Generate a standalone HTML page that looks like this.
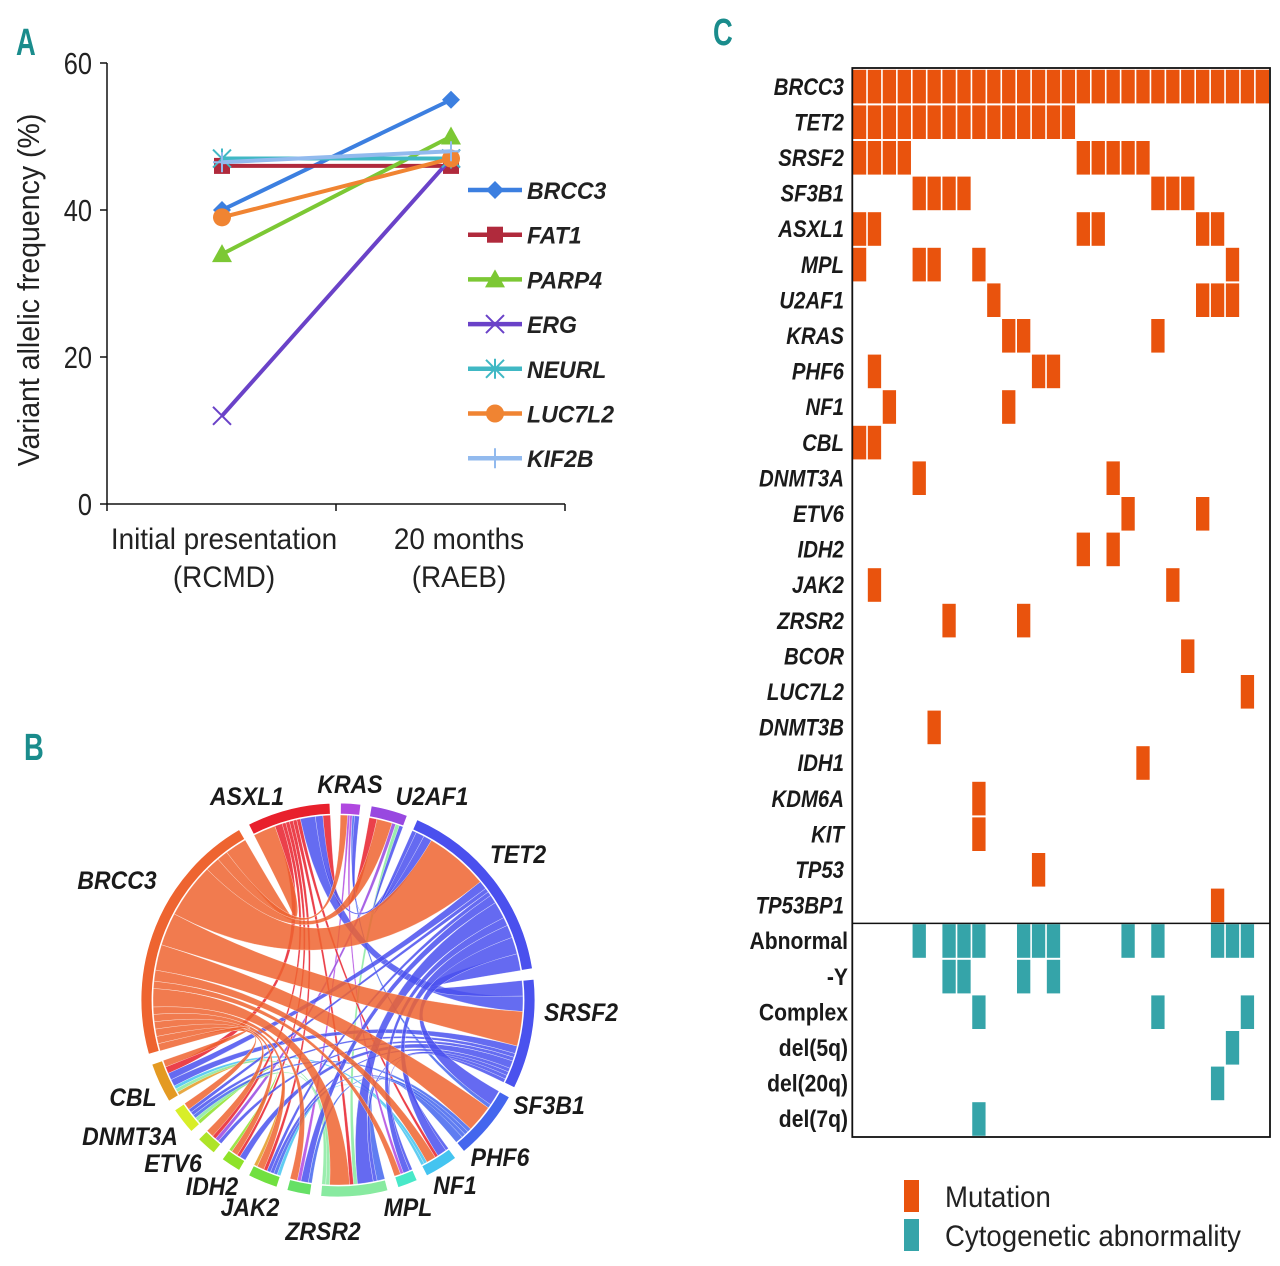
<!DOCTYPE html>
<html><head><meta charset="utf-8"><style>
html,body{margin:0;padding:0;background:#fff;}
svg{display:block;}
text{font-family:"Liberation Sans",sans-serif;}
</style></head><body>
<svg id="fig" width="1280" height="1266" viewBox="0 0 1280 1266" xmlns="http://www.w3.org/2000/svg">
<g id="panelA"></g>
<g id="panelB"></g>
<g id="panelC"></g>
<text x="0" y="0" font-size="38" font-weight="bold" fill="#1a8c8c" transform="translate(16,55) scale(0.72,1)">A</text>
<text x="0" y="0" font-size="38" font-weight="bold" fill="#1a8c8c" transform="translate(24,760) scale(0.72,1)">B</text>
<text x="0" y="0" font-size="38" font-weight="bold" fill="#1a8c8c" transform="translate(713,45) scale(0.72,1)">C</text>
</svg>
<script>
const NS="http://www.w3.org/2000/svg";
function mk(tag,attrs,parent){const e=document.createElementNS(NS,tag);for(const k in attrs)e.setAttribute(k,attrs[k]);parent.appendChild(e);return e;}

/* ---------- Panel A data ---------- */
const seriesNames=["BRCC3","FAT1","PARP4","ERG","NEURL","LUC7L2","KIF2B"];
const initialVAF=[40,46,34,12,47,39,46.5];
const finalVAF=[55,46,50,47,47,47,48];
const timeLabels=[["Initial presentation","(RCMD)"],["20 months","(RAEB)"]];
const yTicks=[0,20,40,60];
const seriesColors=["#3c7fe0","#b02a3c","#7cc834","#6a42c8","#40b8c4","#f08432","#92baee"];
const seriesMarkers=["diamond","square","triangle","x","star","circle","plus"];

/* ---------- Panel C data ---------- */
const mutGenes=["BRCC3","TET2","SRSF2","SF3B1","ASXL1","MPL","U2AF1","KRAS","PHF6","NF1","CBL","DNMT3A","ETV6","IDH2","JAK2","ZRSR2","BCOR","LUC7L2","DNMT3B","IDH1","KDM6A","KIT","TP53","TP53BP1"];
const mutPatients=[
[0,1,2,3,4,5,6,7,8,9,10,11,12,13,14,15,16,17,18,19,20,21,22,23,24,25,26,27],
[0,1,2,3,4,5,6,7,8,9,10,11,12,13,14],
[0,1,2,3,15,16,17,18,19],
[4,5,6,7,20,21,22],
[0,1,15,16,23,24],
[0,4,5,8,25],
[9,23,24,25],
[10,11,20],
[1,12,13],
[2,10],
[0,1],
[4,17],
[18,23],
[15,17],
[1,21],
[6,11],
[22],
[26],
[5],
[19],
[8],
[8],
[12],
[24]];
const cytoLabels=["Abnormal","-Y","Complex","del(5q)","del(20q)","del(7q)"];
const cytoPatients=[[4,6,7,8,11,12,13,18,20,24,25,26],[6,7,11,13],[8,20,26],[25],[24],[8]];
const nPatients=28;

/* ---------- Panel B data ---------- */
const chordGenes=["ASXL1","KRAS","U2AF1","TET2","SRSF2","SF3B1","PHF6","NF1","MPL","ZRSR2","JAK2","IDH2","ETV6","DNMT3A","CBL","BRCC3"];
const chordArcWeights=[25,6,11,58,33,21,10,6,20,7,9,6,6,8,12,77];
const chordColors=["#e8202c","#b048e0","#9848e0","#4a50ee","#4a52ee","#4466ee","#44c4f0","#48e8c8","#88eaa0","#66e066","#70e040","#8ee228","#aee428","#d8ee28","#e49a22","#ee6430"];
const chordPriority=["BRCC3","TET2","SRSF2","SF3B1","ASXL1","MPL","U2AF1","KRAS","PHF6","CBL","NF1","JAK2","ZRSR2","IDH2","DNMT3A","ETV6"];

/* ================= Panel A ================= */
(function(){
const g=document.getElementById('panelA');
const X0=107,X1=565,Y0=504,Y1=63;
const yS=v=>Y0-(v/60)*(Y0-Y1);
const xPos=[222,451];
const xS=i=>xPos[0]+i*(xPos[1]-xPos[0]);
let a=mk('line',{x1:X0,y1:Y1,x2:X0,y2:Y0,stroke:'#111','stroke-width':1.5},g);

a=mk('line',{x1:X0,y1:Y0,x2:X1,y2:Y0,stroke:'#111','stroke-width':1.5},g);

yTicks.forEach(v=>{
 const t=mk('line',{x1:X0-7,y1:yS(v),x2:X0,y2:yS(v),stroke:'#111','stroke-width':1.5},g);
 
 const tx=mk('text',{x:0,y:0,'font-size':31,'text-anchor':'end',fill:'#222',transform:`translate(92,${yS(v)+11}) scale(0.82,1)`},g);
 tx.textContent=v;
 
});
[X0,(X0+X1)/2,X1].forEach(x=>{const t=mk('line',{x1:x,y1:Y0,x2:x,y2:Y0+7,stroke:'#111','stroke-width':1.5},g);
 });
timeLabels.forEach((lab,i)=>{
 lab.forEach((s,j)=>{const tx=mk('text',{x:0,y:0,'font-size':30,'text-anchor':'middle',fill:'#222',transform:`translate(${[224,459][i]},${549+j*38}) scale(0.93,1)`},g);
 tx.textContent=s;});
});
const yl=mk('text',{x:0,y:0,'font-size':31,'text-anchor':'middle',fill:'#222',transform:'translate(39,290) rotate(-90) scale(0.92,1)'},g);
yl.textContent='Variant allelic frequency (%)';

function marker(type,x,y,c,parent){
 let m;
 if(type==='diamond')m=mk('path',{d:`M${x} ${y-9}L${x+9} ${y}L${x} ${y+9}L${x-9} ${y}Z`,fill:c},parent);
 else if(type==='square')m=mk('rect',{x:x-8,y:y-8,width:16,height:16,fill:c},parent);
 else if(type==='triangle')m=mk('path',{d:`M${x} ${y-10}L${x+10} ${y+8}L${x-10} ${y+8}Z`,fill:c},parent);
 else if(type==='x')m=mk('path',{d:`M${x-9} ${y-9}L${x+9} ${y+9}M${x-9} ${y+9}L${x+9} ${y-9}`,stroke:c,'stroke-width':2},parent);
 else if(type==='star')m=mk('path',{d:`M${x-9} ${y-9}L${x+9} ${y+9}M${x-9} ${y+9}L${x+9} ${y-9}M${x} ${y-10}L${x} ${y+10}`,stroke:c,'stroke-width':2},parent);
 else if(type==='circle')m=mk('circle',{cx:x,cy:y,r:9,fill:c},parent);
 else m=mk('path',{d:`M${x-9} ${y}L${x+9} ${y}M${x} ${y-10}L${x} ${y+10}`,stroke:c,'stroke-width':2},parent);
 return m;
}
seriesNames.forEach((n,i)=>{
 const c=seriesColors[i];
 const sg=mk('g',{},g);
 
 const ln=mk('line',{x1:xS(0),y1:yS(initialVAF[i]),x2:xS(1),y2:yS(finalVAF[i]),stroke:c,'stroke-width':4},sg);
 
 let m=marker(seriesMarkers[i],xS(0),yS(initialVAF[i]),c,sg);
 
 m=marker(seriesMarkers[i],xS(1),yS(finalVAF[i]),c,sg);
 
 const ly=190+i*44.7;
 const lg=mk('g',{},g);
 
 mk('line',{x1:468,y1:ly,x2:522,y2:ly,stroke:c,'stroke-width':4.5},lg);
 marker(seriesMarkers[i],495,ly,c,lg);
 const t=mk('text',{x:0,y:0,'font-size':24,'font-weight':'bold','font-style':'italic',fill:'#222',transform:`translate(527,${ly+9}) scale(0.96,1)`},lg);
 t.textContent=n;
});
})();

/* ================= Panel C ================= */
(function(){
const g=document.getElementById('panelC');
const L=852.3,R=1270,T=69,pitch=35.6,cw=(R-L)/nPatients;
const nRows=mutGenes.length+cytoLabels.length;
function cell(r,c,col,name){const e=mk('rect',{x:L+c*cw+0.6,y:T+r*pitch+0.8,width:cw-1.6,height:pitch-2,fill:col},g);
 }
mutGenes.forEach((gn,r)=>{
 mutPatients[r].forEach(c=>cell(r,c,'#e9530d','mutation-cell'));
 const t=mk('text',{x:0,y:0,'font-size':24,'font-weight':'bold','font-style':'italic','text-anchor':'end',fill:'#1a1a1a',transform:`translate(844,${T+r*pitch+pitch/2+8}) scale(0.85,1)`},g);
 t.textContent=gn;
});
cytoLabels.forEach((cl,k)=>{
 const r=mutGenes.length+k;
 cytoPatients[k].forEach(c=>cell(r,c,'#35a4a9','cytogenetic-cell'));
 const t=mk('text',{x:0,y:0,'font-size':24,'font-weight':'bold','text-anchor':'end',fill:'#1a1a1a',transform:`translate(848,${T+r*pitch+pitch/2+8}) scale(0.88,1)`},g);
 t.textContent=cl;
});
let f=mk('rect',{x:L,y:T-1,width:R-L,height:nRows*pitch+1,fill:'none',stroke:'#111','stroke-width':1.8},g);

f=mk('line',{x1:L,y1:T+mutGenes.length*pitch,x2:R,y2:T+mutGenes.length*pitch,stroke:'#111','stroke-width':1.5},g);

const lg=[['Mutation','#e9530d',1180],['Cytogenetic abnormality','#35a4a9',1219]];
lg.forEach(([s,c,y])=>{
 const eg=mk('g',{},g);
 mk('rect',{x:904,y:y,width:15,height:32,fill:c},eg);
 const t=mk('text',{x:0,y:0,'font-size':30,fill:'#222',transform:`translate(945,${y+27}) scale(0.92,1)`},eg);
 t.textContent=s;
});
})();

/* ================= Panel B ================= */
(function(){
const g=document.getElementById('panelB');
const cx=338,cy=1000,Ro=197,Ri=186,Rr=185;
const gap=3.1, start=333;
const totalW=chordArcWeights.reduce((a,b)=>a+b,0);
const sc=(360-gap*chordGenes.length)/totalW;
const arcs=[];let ang=start;
chordGenes.forEach((gn,i)=>{const a0=ang,a1=ang+chordArcWeights[i]*sc;arcs.push([a0,a1]);ang=a1+gap;});
const rad=d=>d*Math.PI/180;
const P=(r,d)=>[cx+r*Math.sin(rad(d)),cy-r*Math.cos(rad(d))];
const idx=gn=>mutGenes.indexOf(gn);
const links=[];
for(let i=0;i<chordGenes.length;i++)for(let j=i+1;j<chordGenes.length;j++){
 const A=mutPatients[idx(chordGenes[i])],B=mutPatients[idx(chordGenes[j])];
 const n=A.filter(p=>B.includes(p)).length;
 if(n>0)links.push({i,j,n});
}
const spans={};
chordGenes.forEach((gn,k)=>{
 const my=links.filter(l=>l.i===k||l.j===k).map(l=>({l,other:l.i===k?l.j:l.i}));
 my.sort((a,b)=>((b.other-k+16)%16)-((a.other-k+16)%16));
 const tot=my.reduce((s,m)=>s+m.l.n,0)||1;
 let a=arcs[k][0];const w=arcs[k][1]-arcs[k][0];
 my.forEach(m=>{const d=w*m.l.n/tot;spans[k+'_'+links.indexOf(m.l)]=[a,a+d];a+=d;});
});
const pr=gn=>chordPriority.indexOf(gn);
const order=links.map((l,li)=>li).sort((a,b)=>Math.min(pr(chordGenes[links[b].i]),pr(chordGenes[links[b].j]))-Math.min(pr(chordGenes[links[a].i]),pr(chordGenes[links[a].j])));
order.forEach(li=>{
 const l=links[li];
 const sa=spans[l.i+'_'+li],sb=spans[l.j+'_'+li];
 const ci=pr(chordGenes[l.i])<pr(chordGenes[l.j])?l.i:l.j;
 const a1=P(Rr,sa[0]),a2=P(Rr,sa[1]),b1=P(Rr,sb[0]),b2=P(Rr,sb[1]);
 const d=`M${a1}A${Rr} ${Rr} 0 0 1 ${a2}Q${cx} ${cy} ${b1}A${Rr} ${Rr} 0 0 1 ${b2}Q${cx} ${cy} ${a1}Z`;
 const e=mk('path',{d:d,fill:chordColors[ci],'fill-opacity':0.85,stroke:'#fff','stroke-width':0.5,'stroke-opacity':0.6},g);
 
});
chordGenes.forEach((gn,k)=>{
 const [a0,a1]=arcs[k];
 const o0=P(Ro,a0),o1=P(Ro,a1),i1=P(Ri,a1),i0=P(Ri,a0);
 const lg=(a1-a0)>180?1:0;
 const e=mk('path',{d:`M${o0}A${Ro} ${Ro} 0 ${lg} 1 ${o1}L${i1}A${Ri} ${Ri} 0 ${lg} 0 ${i0}Z`,fill:chordColors[k],stroke:'#fff','stroke-width':0.8},g);
 
});
const labelPos={ASXL1:[247,805],KRAS:[350,793],U2AF1:[432,805],TET2:[518,863],BRCC3:[117,889],SRSF2:[581,1021],SF3B1:[549,1114],CBL:[133,1106],DNMT3A:[130,1145],ETV6:[173,1172],PHF6:[500,1166],IDH2:[212,1195],NF1:[455,1194],JAK2:[250,1216],MPL:[408,1216],ZRSR2:[323,1240]};
chordGenes.forEach(gn=>{
 const [x,y]=labelPos[gn];
 const t=mk('text',{x:0,y:0,'font-size':25,'font-weight':'bold','font-style':'italic','text-anchor':'middle',fill:'#1a1a1a',transform:`translate(${x},${y}) scale(0.92,1)`},g);
 t.textContent=gn;
});
})();
</script>
</body></html>
